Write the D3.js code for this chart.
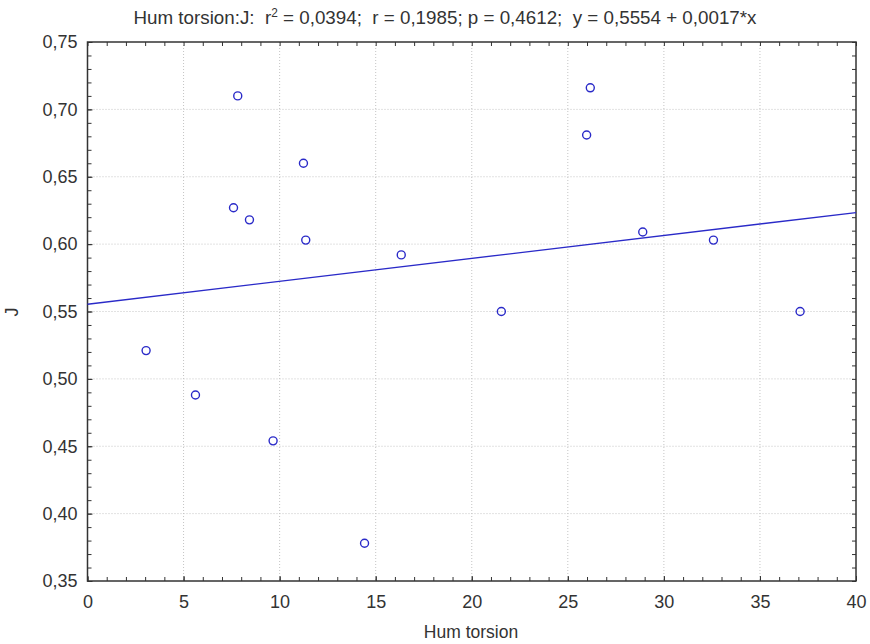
<!DOCTYPE html>
<html>
<head>
<meta charset="utf-8">
<script src="https://cdn.jsdelivr.net/npm/d3@7"></script>
<style>
	body { margin: 0; background: #fff; }
	text { font-family: "Liberation Sans", Arial, sans-serif; fill: #333; }
</style>
</head>
<body>
<svg id="chart" width="870" height="644"></svg>
<script>
// data
var humTorsion = [3.05, 5.62, 7.82, 7.6, 8.43, 11.24, 11.36, 16.33, 9.66, 14.42, 21.54, 25.98, 26.17, 28.9, 32.58, 37.09];
var jValues    = [0.521, 0.488, 0.710, 0.627, 0.618, 0.660, 0.603, 0.592, 0.454, 0.378, 0.550, 0.681, 0.716, 0.609, 0.603, 0.550];
var xTicks = [0, 5, 10, 15, 20, 25, 30, 35, 40];
var yTicks = [0.35, 0.40, 0.45, 0.50, 0.55, 0.60, 0.65, 0.70, 0.75];
var fit = [0.5554, 0.0017]; // intercept, slope
var stats = ["0,0394", "0,1985", "0,4612"];

var svg = d3.select("#chart");
var L = 87.5, R = 856, T = 42, B = 581;

var xScale = d3.scaleLinear().domain([0, 40]).range([L, R]);
var yScale = d3.scaleLinear().domain([0.35, 0.75]).range([B, T]);

var fmt = d3.format(".2f");
function comma(d) { return fmt(d).replace(".", ","); }
function comma4(v) { return d3.format(".4f")(v).replace(".", ","); }

// grid
svg.append("g").selectAll("line.gx")
	.data(xTicks.slice(1, -1)).enter().append("line")
	.attr("x1", d => xScale(d)).attr("x2", d => xScale(d))
	.attr("y1", T).attr("y2", B)
	.attr("stroke", "#c4c4c4").attr("stroke-dasharray", "1,2");
svg.append("g").selectAll("line.gy")
	.data(yTicks.slice(1, -1)).enter().append("line")
	.attr("x1", L).attr("x2", R)
	.attr("y1", d => yScale(d)).attr("y2", d => yScale(d))
	.attr("stroke", "#c4c4c4").attr("stroke-dasharray", "1,2");

// minor + major ticks, inward, all four sides
var xMinor = d3.range(0, 41, 1);
var yMinor = d3.range(35, 76, 1).map(d => d / 100);

function ticks(axis, pos, vals, size) {
	return svg.append("g")
		.attr("transform", pos)
		.call(axis.tickValues(vals).tickSize(-size).tickFormat(""))
		.call(g => g.select(".domain").remove())
		.call(g => g.selectAll("line").attr("stroke", "#333"));
}
ticks(d3.axisBottom(xScale), `translate(0,${B})`, xMinor, 4);
ticks(d3.axisTop(xScale), `translate(0,${T})`, xMinor, 4);
ticks(d3.axisLeft(yScale), `translate(${L},0)`, yMinor, 4);
ticks(d3.axisRight(yScale), `translate(${R},0)`, yMinor, 4);
ticks(d3.axisBottom(xScale), `translate(0,${B})`, xTicks, 5);
ticks(d3.axisLeft(yScale), `translate(${L},0)`, yTicks, 5);

// labels
var xAxis = d3.axisBottom(xScale).tickValues(xTicks).tickSize(0).tickPadding(14);
svg.append("g").attr("transform", `translate(0,${B})`).call(xAxis)
	.call(g => g.select(".domain").remove())
	.selectAll("text").style("font-size", "18px").attr("fill", "#333")
	.style("font-family", "'Liberation Sans', Arial, sans-serif");

var yAxis = d3.axisLeft(yScale).tickValues(yTicks).tickSize(0).tickPadding(10).tickFormat(comma);
svg.append("g").attr("transform", `translate(${L},0)`).call(yAxis)
	.call(g => g.select(".domain").remove())
	.selectAll("text").style("font-size", "18px").attr("fill", "#333")
	.style("font-family", "'Liberation Sans', Arial, sans-serif");

// frame
svg.append("rect").attr("x", L).attr("y", T).attr("width", R - L).attr("height", B - T)
	.attr("fill", "none").attr("stroke", "#333").attr("stroke-width", 1.5);

// regression line
svg.append("line")
	.attr("x1", xScale(0)).attr("y1", yScale(fit[0]))
	.attr("x2", xScale(40)).attr("y2", yScale(fit[0] + fit[1] * 40))
	.attr("stroke", "#2a2ac8").attr("stroke-width", 1.4);

// points
svg.append("g").selectAll("circle")
	.data(humTorsion).enter().append("circle")
	.attr("cx", d => xScale(d))
	.attr("cy", (d, i) => yScale(jValues[i]))
	.attr("r", 4)
	.attr("fill", "none").attr("stroke", "#2a2ac8").attr("stroke-width", 1.4);

// title
var title = svg.append("text").attr("x", 445).attr("y", 24)
	.attr("text-anchor", "middle").style("font-size", "19px").style("white-space", "pre")
	.attr("textLength", 623).attr("lengthAdjust", "spacingAndGlyphs");
title.append("tspan").text("Hum torsion:J:  r");
title.append("tspan").attr("dy", -7).style("font-size", "12px").text("2");
title.append("tspan").attr("dy", 7).text(` = ${stats[0]};  r = ${stats[1]}; p = ${stats[2]};  y = ${comma4(fit[0])} + ${comma4(fit[1])}*x`);

// axis titles
svg.append("text").attr("x", 471).attr("y", 638).attr("text-anchor", "middle")
	.style("font-size", "17.5px").text("Hum torsion");
svg.append("text").attr("transform", "translate(18,312) rotate(-90)")
	.attr("text-anchor", "middle").style("font-size", "18px").text("J");
</script>
</body>
</html>
